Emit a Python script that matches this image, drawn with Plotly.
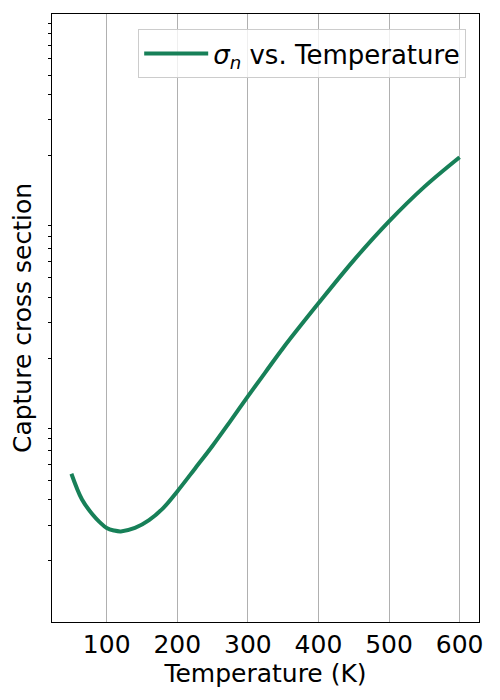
import plotly.graph_objects as go

# capture cross section (cm^2)
temperature = [50, 65, 80, 90, 100, 110, 120, 140, 160, 180, 200, 225, 250, 275, 300, 325, 350, 400, 450, 500, 550, 600]
sigma_n = [5.39e-17, 4.02e-17, 3.39e-17, 3.11e-17, 2.91e-17, 2.83e-17, 2.80e-17, 2.91e-17, 3.18e-17, 3.65e-17,
           4.41e-17, 5.71e-17, 7.41e-17, 9.78e-17, 1.297e-16, 1.71e-16, 2.25e-16, 3.735e-16, 6.09e-16, 9.48e-16,
           1.403e-15, 1.965e-15]
x_ticks = [100, 200, 300, 400, 500, 600]
decades = [1e-17, 1e-16, 1e-15]

LINE = "#178058"
FONT = "DejaVu Sans"

# only minor ticks (2..9 of each decade) are shown on the log axis
minor_ticks = [d * k for d in decades for k in range(2, 10)]

fig = go.Figure()
fig.add_trace(
    go.Scatter(
        x=temperature,
        y=sigma_n,
        mode="lines",
        line=dict(color=LINE, width=4, shape="spline", smoothing=1.0),
        name="<i>σ<sub>n</sub></i> vs. Temperature",
    )
)

# the page body adds an 8px offset, so margins are trimmed on the top/left
fig.update_layout(
    width=500,
    height=700,
    paper_bgcolor="white",
    plot_bgcolor="white",
    margin=dict(l=44, r=29, t=6, b=86),
    font=dict(family=FONT, size=25, color="black"),
    showlegend=True,
    legend=dict(
        x=0.97,
        y=0.975,
        xanchor="right",
        yanchor="top",
        bgcolor="rgba(255,255,255,0.8)",
        bordercolor="#cccccc",
        borderwidth=1,
        itemwidth=64,
        font=dict(family=FONT, size=26),
    ),
)
fig.update_xaxes(
    range=[22.5, 627.5],
    tickvals=x_ticks,
    ticks="",
    ticklen=0,
    showgrid=True,
    gridcolor="#b0b0b0",
    gridwidth=1,
    showline=True,
    linecolor="black",
    linewidth=1,
    mirror=True,
    zeroline=False,
    automargin=False,
    title=dict(text="Temperature (K)", font=dict(size=25), standoff=4),
)
fig.update_yaxes(
    type="log",
    range=[-17, -14],
    tickvals=minor_ticks,
    ticks="outside",
    ticklen=3.5,
    tickwidth=0.8,
    tickcolor="black",
    showticklabels=False,
    showgrid=False,
    showline=True,
    linecolor="black",
    linewidth=1,
    mirror=True,
    zeroline=False,
    automargin=False,
    title=dict(text="Capture cross section", font=dict(size=25), standoff=10),
)

fig.write_html("out.html")
